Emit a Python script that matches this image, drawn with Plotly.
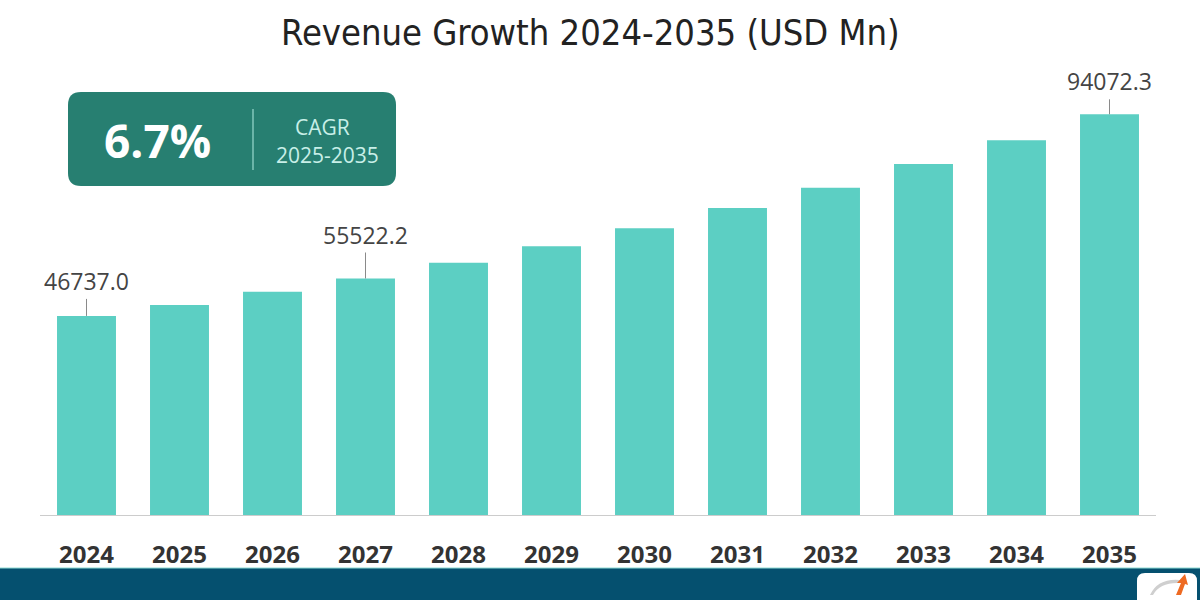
import plotly.graph_objects as go

years = ["2024", "2025", "2026", "2027", "2028", "2029", "2030", "2031", "2032", "2033", "2034", "2035"]
revenue = [46737.0, 49300, 52400, 55522.2, 59200, 63100, 67300, 72100, 76800, 82400, 88000, 94072.3]
labelled_years = ["2024", "2027", "2035"]
label_offsets = [-17, -26, -15]
title_text = "Revenue Growth 2024-2035 (USD Mn)"
cagr_value = "6.7%"
cagr_label = "CAGR"
cagr_period = "2025-2035"

W, H = 1200, 600
ML, MR, MT, MB = 40, 44, 60, 85
PW, PH = W - ML - MR, H - MT - MB

def px(x):
    return (x - ML) / PW

def py(y):
    return (H - MB - y) / PH

def rrect(x0, y0, x1, y1, r):
    def P(x, y):
        return f"{px(x):.5f},{py(y):.5f}"
    return (f"M {P(x0 + r, y0)} L {P(x1 - r, y0)} Q {P(x1, y0)} {P(x1, y0 + r)} "
            f"L {P(x1, y1 - r)} Q {P(x1, y1)} {P(x1 - r, y1)} L {P(x0 + r, y1)} "
            f"Q {P(x0, y1)} {P(x0, y1 - r)} L {P(x0, y0 + r)} Q {P(x0, y0)} {P(x0 + r, y0)} Z")

fig = go.Figure()
fig.add_trace(go.Bar(
    x=years, y=revenue,
    marker=dict(color="#5CCFC3", line=dict(width=0)),
    hoverinfo="skip",
))

annotations = []
for yr, off in zip(labelled_years, label_offsets):
    i = years.index(yr)
    val = revenue[i]
    annotations.append(dict(
        x=i, y=val, xref="x", yref="y",
        text=f"{val:.1f}", showarrow=True, arrowhead=0, arrowwidth=1,
        arrowcolor="#8a8a8a", ax=0, ay=off, standoff=0,
        font=dict(family="Open Sans", size=23, color="#444444"),
        yanchor="bottom",
    ))

annotations.append(dict(
    x=px(590), y=py(32), xref="paper", yref="paper", showarrow=False,
    text=title_text,
    font=dict(family="Liberation Sans Narrow, DejaVu Sans Condensed, Roboto, sans-serif", size=36, color="#222222"),
    xanchor="center", yanchor="middle",
))
annotations.append(dict(
    x=px(157), y=py(140), xref="paper", yref="paper", showarrow=False,
    text=f"<b>{cagr_value}</b>", font=dict(family="Open Sans", size=46, color="#ffffff"),
    xanchor="center", yanchor="middle",
))
annotations.append(dict(
    x=px(322), y=py(127), xref="paper", yref="paper", showarrow=False,
    text=cagr_label, font=dict(family="Open Sans", size=21, color="#c8efe8"),
    xanchor="center", yanchor="middle",
))
annotations.append(dict(
    x=px(327), y=py(155), xref="paper", yref="paper", showarrow=False,
    text=cagr_period, font=dict(family="Open Sans", size=21, color="#c8efe8"),
    xanchor="center", yanchor="middle",
))

shapes = [
    dict(type="path", xref="paper", yref="paper", path=rrect(68, 92, 396, 186, 13),
         fillcolor="#277F71", line=dict(width=0), layer="above"),
    dict(type="line", xref="paper", yref="paper", x0=px(253), x1=px(253), y0=py(109), y1=py(170),
         line=dict(color="#9ad9cf", width=1.2), layer="above"),
    dict(type="rect", xref="paper", yref="paper", x0=px(0), x1=px(1200), y0=py(568), y1=py(601),
         fillcolor="#05506F", line=dict(width=0), layer="above"),
    dict(type="line", xref="paper", yref="paper", x0=px(0), x1=px(1200), y0=py(568), y1=py(568),
         line=dict(color="#8fdcd6", width=1.2), layer="above"),
    dict(type="path", xref="paper", yref="paper", path=rrect(1137, 573, 1197, 612, 8),
         fillcolor="#ffffff", line=dict(width=0), layer="above"),
    dict(type="path", xref="paper", yref="paper",
         path=f"M {px(1150):.5f},{py(595):.5f} Q {px(1158):.5f},{py(578):.5f} {px(1180):.5f},{py(580):.5f} "
              f"L {px(1180):.5f},{py(583):.5f} Q {px(1160):.5f},{py(582):.5f} {px(1153):.5f},{py(595):.5f} Z",
         fillcolor="#cfcfcf", line=dict(width=0), layer="above"),
    dict(type="path", xref="paper", yref="paper",
         path=f"M {px(1176):.5f},{py(595):.5f} L {px(1181):.5f},{py(583):.5f} L {px(1177):.5f},{py(583):.5f} "
              f"L {px(1185):.5f},{py(574):.5f} L {px(1188):.5f},{py(585):.5f} L {px(1185):.5f},{py(584):.5f} "
              f"L {px(1181):.5f},{py(595):.5f} Z",
         fillcolor="#EE6A22", line=dict(width=0), layer="above"),
]

fig.update_layout(
    width=W, height=H,
    margin=dict(l=ML, r=MR, t=MT, b=MB, pad=0),
    paper_bgcolor="#ffffff", plot_bgcolor="#ffffff",
    showlegend=False,
    bargap=0.366,
    annotations=annotations,
    shapes=shapes,
    xaxis=dict(
        type="category", categoryorder="array", categoryarray=years,
        range=[-0.5, len(years) - 0.5],
        showgrid=False, showline=True, linecolor="#cccccc", linewidth=1,
        ticks="", ticklabelstandoff=18,
        tickfont=dict(family="Open Sans", size=24, color="#333333", weight="bold"),
        fixedrange=True,
    ),
    yaxis=dict(range=[0, 106820], visible=False, fixedrange=True),
)

fig.write_html("out.html", config={"displayModeBar": False})
